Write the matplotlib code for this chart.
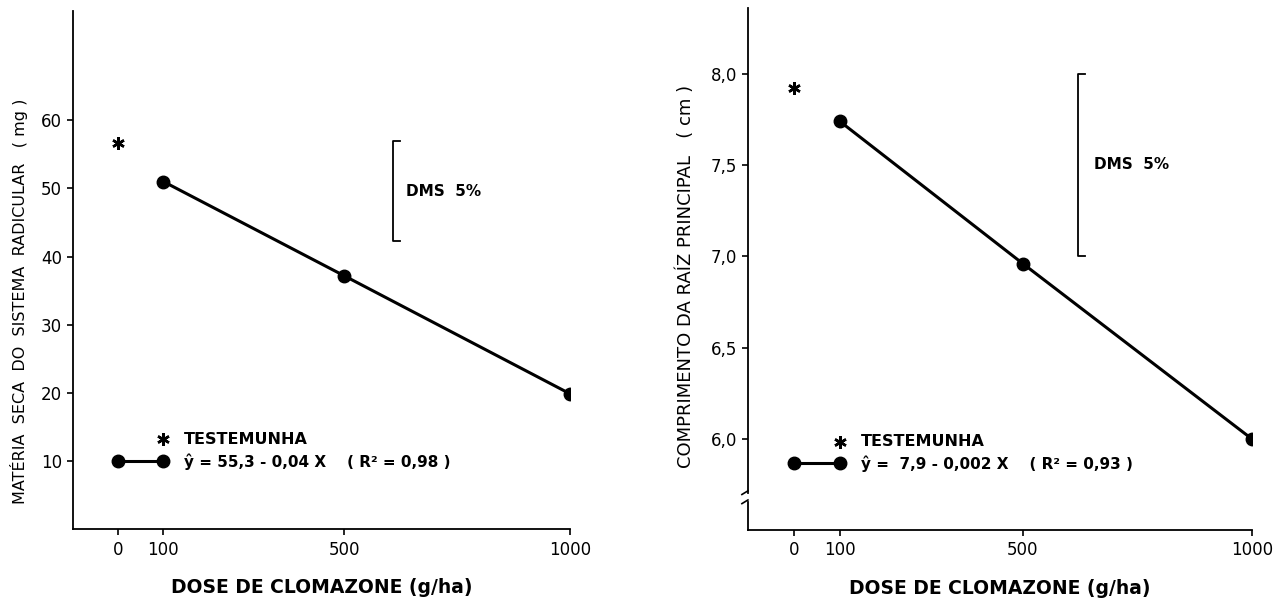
import matplotlib
matplotlib.use("Agg")
import matplotlib.pyplot as plt

plt.rcParams['font.family'] = ['DejaVu Sans']

# data
doses = [100, 500, 1000]
dose_ticks = [0, 100, 500, 1000]
control_dose = 0

ms_values = [51.0, 37.2, 19.9]      # materia seca (mg)
ms_control = 56.6
ms_ticks = [10, 20, 30, 40, 50, 60]
ms_dms = [42.3, 56.9]

comp_values = [7.74, 6.96, 6.0]     # comprimento raiz (cm)
comp_control = 7.92
comp_ticks = [6.0, 6.5, 7.0, 7.5, 8.0]
comp_tick_labels = ['6,0', '6,5', '7,0', '7,5', '8,0']
comp_dms = [7.0, 8.0]

star = (6, 2, 0)


def style_axes(ax):
    ax.spines['top'].set_visible(False)
    ax.spines['right'].set_visible(False)
    ax.spines['left'].set_linewidth(1.3)
    ax.spines['bottom'].set_linewidth(1.3)
    ax.tick_params(direction='out', length=4, width=1.2, labelsize=12, pad=4)
    ax.set_xlim(-100, 1000)
    ax.set_xticks(dose_ticks)
    ax.set_xlabel("DOSE DE CLOMAZONE (g/ha)", fontsize=13.5, fontweight='bold', labelpad=14)


def draw_dms(ax, lo, hi, x, serif, text_x):
    ax.plot([x + serif, x, x, x + serif], [lo, lo, hi, hi], color='black', lw=1.3)
    ax.text(text_x, (lo + hi) / 2, "DMS  5%", fontsize=11, fontweight='bold', va='center')


fig = plt.figure(figsize=(12.74, 6.10), dpi=100)

# left panel
ax1 = fig.add_axes([0.0573, 0.132, 0.390, 0.850])
style_axes(ax1)
ax1.set_ylim(0, 76)
ax1.set_yticks(ms_ticks)
ax1.plot(doses, ms_values, color='black', lw=2.2, marker='o', ms=9)
ax1.plot([control_dose], [ms_control], color='black', marker=star, ms=9, mew=1.8, ls='none')
draw_dms(ax1, ms_dms[0], ms_dms[1], 609, 15, 638)
ax1.plot([100], [13.2], color='black', marker=star, ms=9, mew=1.8, ls='none')
ax1.text(145, 13.2, "TESTEMUNHA", fontsize=11.5, fontweight='bold', va='center')
ax1.plot([0, 100], [10, 10], color='black', lw=2.2, marker='o', ms=9)
ax1.text(145, 10, "ŷ = 55,3 - 0,04 X    ( R² = 0,98 )", fontsize=11, fontweight='bold', va='center')
ax1.set_ylabel("MATÉRIA  SECA  DO  SISTEMA  RADICULAR   ( mg )", fontsize=11.5)
ax1.yaxis.set_label_coords(-0.09, 0.44)

# right panel
ax2 = fig.add_axes([0.5871, 0.131, 0.3954, 0.856])
style_axes(ax2)
ax2.set_ylim(5.5, 8.36)
ax2.set_yticks(comp_ticks)
ax2.set_yticklabels(comp_tick_labels)
ax2.plot(doses, comp_values, color='black', lw=2.2, marker='o', ms=9)
ax2.plot([control_dose], [comp_control], color='black', marker=star, ms=9, mew=1.8, ls='none')
draw_dms(ax2, comp_dms[0], comp_dms[1], 621, 15, 655)
ax2.plot([100], [5.985], color='black', marker=star, ms=9, mew=1.8, ls='none')
ax2.text(147, 5.985, "TESTEMUNHA", fontsize=11.5, fontweight='bold', va='center')
ax2.plot([0, 100], [5.865, 5.865], color='black', lw=2.2, marker='o', ms=9)
ax2.text(147, 5.865, "ŷ =  7,9 - 0,002 X    ( R² = 0,93 )", fontsize=11, fontweight='bold', va='center')
ax2.set_ylabel("COMPRIMENTO DA RAÍZ PRINCIPAL   ( cm )", fontsize=13)
ax2.yaxis.set_label_coords(-0.105, 0.485)

# axis break on the right y axis
ax2.spines['left'].set_visible(False)
trans = ax2.get_yaxis_transform()
ax2.plot([0, 0], [5.5, 5.655], color='black', lw=1.3, transform=trans, clip_on=False)
ax2.plot([0, 0], [5.705, 8.36], color='black', lw=1.3, transform=trans, clip_on=False)
ax2.plot([-0.012, 0.0], [5.645, 5.665], color='black', lw=1.2, transform=trans, clip_on=False)
ax2.plot([-0.012, 0.0], [5.695, 5.715], color='black', lw=1.2, transform=trans, clip_on=False)

fig.savefig("out.png", dpi=100, facecolor='white')
